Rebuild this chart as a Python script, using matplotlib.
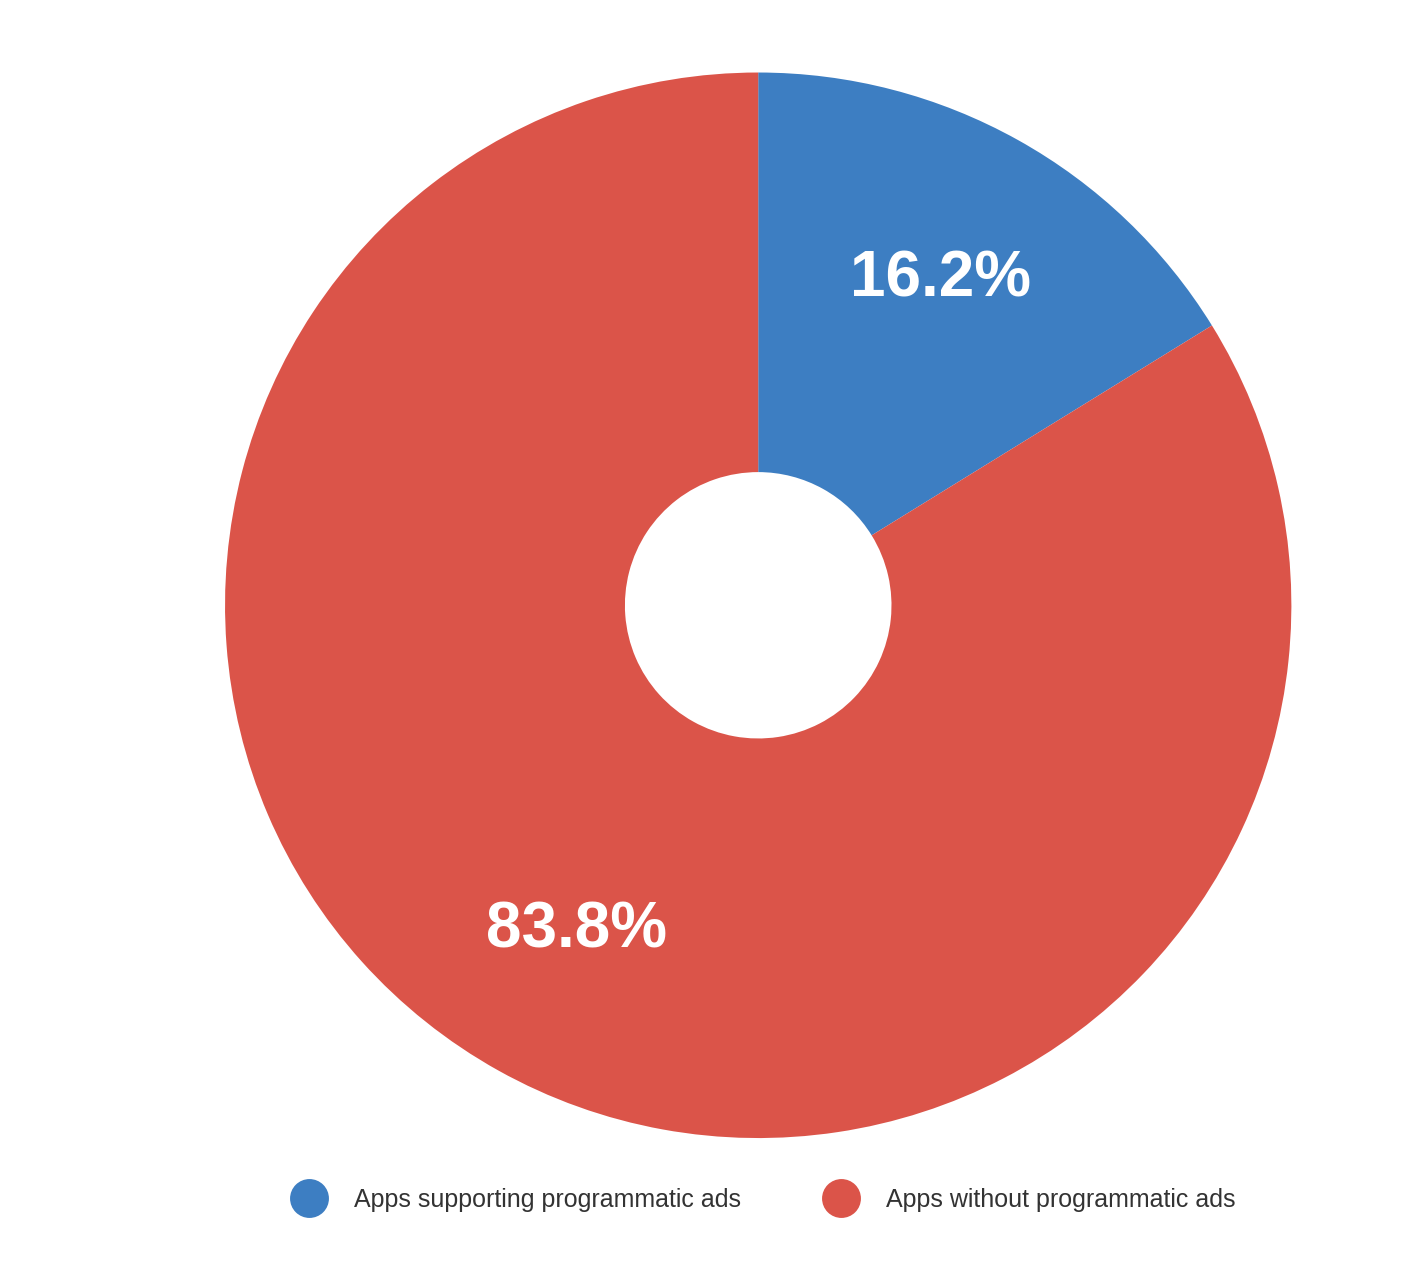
import matplotlib
matplotlib.use('Agg')
import matplotlib.pyplot as plt
from matplotlib.lines import Line2D

plt.rcParams['font.family'] = ['Liberation Sans', 'DejaVu Sans']

labels = ['Apps supporting programmatic ads', 'Apps without programmatic ads']
values = [16.2, 83.8]
colors = ['#3D7EC2', '#DB5449']

fig = plt.figure(figsize=(14.18, 12.7), dpi=100)
ax = fig.add_axes([0.1587, 0.1039, 0.752, 0.839])

wedges, texts, autotexts = ax.pie(
    values, colors=colors, startangle=90, counterclock=False,
    autopct='%.1f%%', pctdistance=0.70,
    wedgeprops=dict(width=0.75, edgecolor='none'),
    textprops=dict(color='white', fontsize=46, fontweight='bold'))
ax.set_aspect('auto')
ax.set_xlim(-1, 1)
ax.set_ylim(-1, 1)

handles = [Line2D([0], [0], marker='o', linestyle='none', markersize=28,
                  markerfacecolor=c, markeredgecolor='none') for c in colors]
fig.legend(handles, labels, loc='center', bbox_to_anchor=(0.536, 0.055),
           ncol=2, frameon=False, fontsize=18, handletextpad=0.8,
           columnspacing=3.0, labelcolor='#333333')

fig.savefig('out.png', dpi=100)
